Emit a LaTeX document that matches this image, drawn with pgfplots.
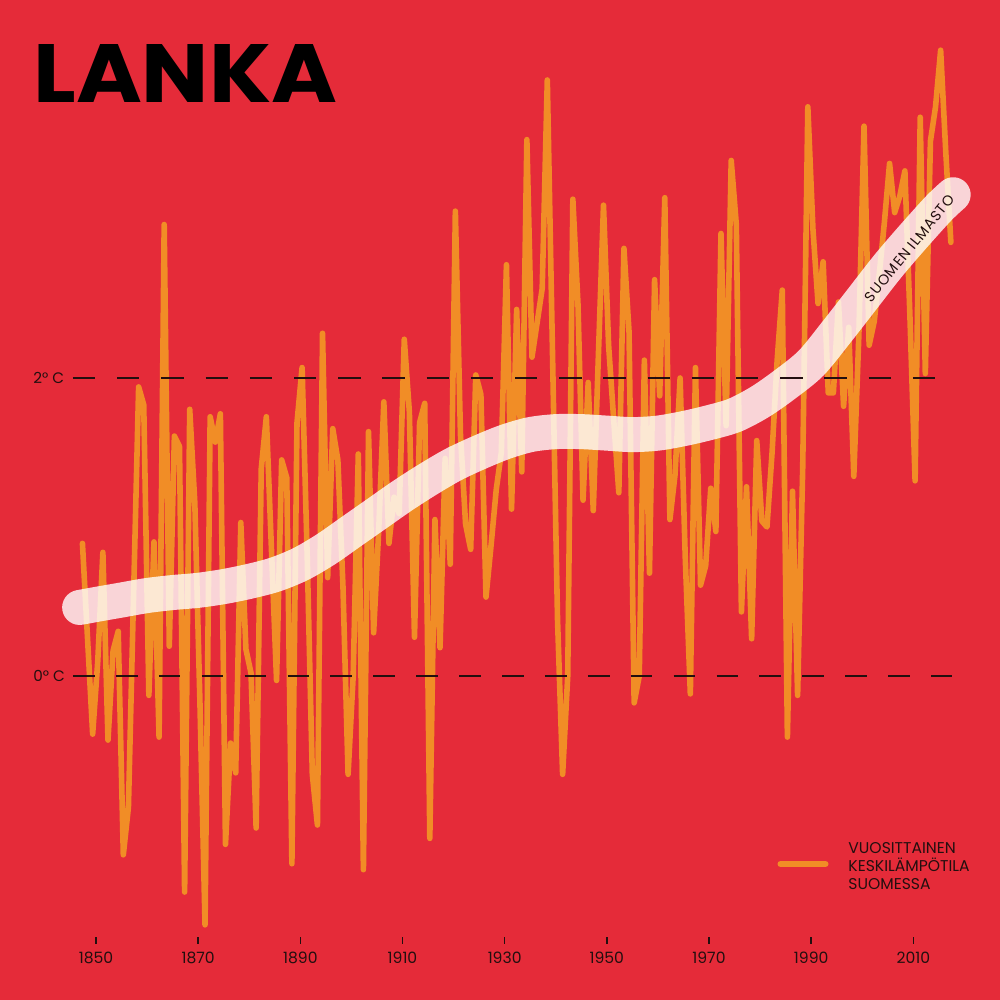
\documentclass[border=0pt]{standalone}
\usepackage{pgfplots}
\usepackage{pgfplotstable}
\pgfplotsset{compat=1.18}
\usepackage{fontspec}
\setmainfont{Poppins}
\newfontfamily\spaced[LetterSpace=6]{Poppins}
\definecolor{bgred}{RGB}{229,43,57}
\definecolor{lorange}{RGB}{241,141,38}
\definecolor{txt}{RGB}{35,15,15}

\pgfplotstableread{
year t
1847 0.89
1848 0.25
1849 -0.39
1850 0.10
1851 0.83
1852 -0.43
1853 0.17
1854 0.30
1855 -1.20
1856 -0.88
1857 0.53
1858 1.94
1859 1.82
1860 -0.13
1861 0.90
1862 -0.41
1863 3.03
1864 0.20
1865 1.61
1866 1.54
1867 -1.45
1868 1.79
1869 1.16
1870 -0.18
1871 -1.67
1872 1.74
1873 1.57
1874 1.76
1875 -1.13
1876 -0.45
1877 -0.65
1878 1.03
1879 0.18
1880 0.02
1881 -1.02
1882 1.39
1883 1.74
1884 0.85
1885 -0.03
1886 1.45
1887 1.33
1888 -1.26
1889 1.70
1890 2.07
1891 0.80
1892 -0.66
1893 -1.00
1894 2.30
1895 0.66
1896 1.66
1897 1.45
1898 0.60
1899 -0.66
1900 0.00
1901 1.49
1902 -1.30
1903 1.64
1904 0.29
1905 0.98
1906 1.84
1907 0.89
1908 1.20
1909 1.09
1910 2.26
1911 1.77
1912 0.26
1913 1.70
1914 1.83
1915 -1.09
1916 1.05
1917 0.19
1918 1.46
1919 0.75
1920 3.12
1921 1.62
1922 1.02
1923 0.85
1924 2.02
1925 1.89
1926 0.53
1927 0.88
1928 1.25
1929 1.50
1930 2.76
1931 1.12
1932 2.46
1933 1.37
1934 3.60
1935 2.14
1936 2.37
1937 2.60
1938 4.00
1939 2.20
1940 0.38
1941 -0.66
1942 0.00
1943 3.20
1944 2.50
1945 1.18
1946 1.97
1947 1.11
1948 2.15
1949 3.16
1950 2.22
1951 1.72
1952 1.23
1953 2.87
1954 2.31
1955 -0.18
1956 0.00
1957 2.12
1958 0.69
1959 2.66
1960 1.88
1961 3.21
1962 1.05
1963 1.35
1964 2.00
1965 0.80
1966 -0.12
1967 2.07
1968 0.61
1969 0.74
1970 1.26
1971 0.97
1972 2.97
1973 1.68
1974 3.46
1975 3.03
1976 0.43
1977 1.27
1978 0.25
1979 1.58
1980 1.04
1981 1.00
1982 1.50
1983 2.12
1984 2.59
1985 -0.41
1986 1.24
1987 -0.13
1988 1.40
1989 3.82
1990 3.00
1991 2.50
1992 2.78
1993 1.90
1994 1.90
1995 2.51
1996 1.81
1997 2.34
1998 1.34
1999 2.30
2000 3.69
2001 2.22
2002 2.38
2003 2.70
2004 3.05
2005 3.44
2006 3.11
2007 3.22
2008 3.39
2009 2.40
2010 1.31
2011 3.75
2012 2.03
2013 3.59
2014 3.82
2015 4.20
2016 3.52
2017 2.91
}\annual

\pgfplotstableread{
year t
1846.8 0.46
1850 0.48
1855 0.51
1860 0.54
1865 0.56
1870 0.575
1875 0.60
1880 0.635
1885 0.68
1890 0.75
1895 0.85
1900 0.97
1905 1.09
1910 1.21
1915 1.32
1920 1.42
1925 1.50
1930 1.57
1935 1.62
1940 1.64
1945 1.64
1950 1.63
1955 1.62
1960 1.63
1965 1.66
1970 1.70
1975 1.75
1980 1.84
1985 1.96
1990 2.10
1995 2.31
2000 2.53
2005 2.75
2010 2.95
2015 3.14
2017.8 3.23
}\trend

\begin{document}
\begin{tikzpicture}
\fill[bgred] (0,0) rectangle (500bp,500bp);
\begin{axis}[at={(0,0)}, anchor=south west, scale only axis,
  width=500bp, height=500bp,
  xmin=1831.21, xmax=2026.97, ymin=-2.1745, ymax=4.537,
  hide axis, clip=false]
\addplot[lorange, line width=2.8bp, line join=round, line cap=round]
  table[x expr=\thisrow{year}+0.35, y=t]{\annual};
\addplot[white, opacity=0.8, line width=17.5bp, line cap=round, smooth]
  table[x=year, y=t]{\trend};
\draw[txt, line width=0.6bp, dash pattern=on 11.15bp off 10.95bp]
  (axis cs:1845.5,2) -- (axis cs:2014.25,2);
\draw[txt, line width=0.6bp, dash pattern=on 10.85bp off 10.6bp]
  (axis cs:1845.5,0) -- (axis cs:2017.58,0);
\pgfplotsinvokeforeach{1850,1870,1890,1910,1930,1950,1970,1990,2010}{
  \draw[txt, line width=0.8bp] (axis cs:#1,-1.7517) -- (axis cs:#1,-1.7987);
  \node[txt, inner sep=0pt, font=\fontsize{7.8bp}{9bp}\selectfont] at (axis cs:#1,-1.8926) {#1};
}
\node[txt, anchor=west, inner sep=0pt, font=\fontsize{7.6bp}{9bp}\selectfont] at (axis cs:1837.67,2) {2° C};
\node[txt, anchor=west, inner sep=0pt, font=\fontsize{7.6bp}{9bp}\selectfont] at (axis cs:1837.67,0) {0° C};
\node[txt, rotate=51, inner sep=0pt, font=\spaced\fontsize{7.2bp}{9bp}\selectfont] at (axis cs:2009.3,2.87) {SUOMEN ILMASTO};
\draw[lorange, line width=3bp, line cap=round] (rel axis cs:0.7805,0.136) -- (rel axis cs:0.8255,0.136);
\node[txt, anchor=west, align=left, inner sep=0pt, font=\fontsize{7.8bp}{9bp}\selectfont] at (rel axis cs:0.848,0.134) {VUOSITTAINEN\\KESKILÄMPÖTILA\\SUOMESSA};
\node[black, anchor=south west, inner sep=0pt] at (rel axis cs:0.033,0.897) {\resizebox{152bp}{29bp}{\bfseries LANKA}};
\end{axis}
\pgfresetboundingbox
\path[use as bounding box] (0,0) rectangle (500bp,500bp);
\end{tikzpicture}
\end{document}
